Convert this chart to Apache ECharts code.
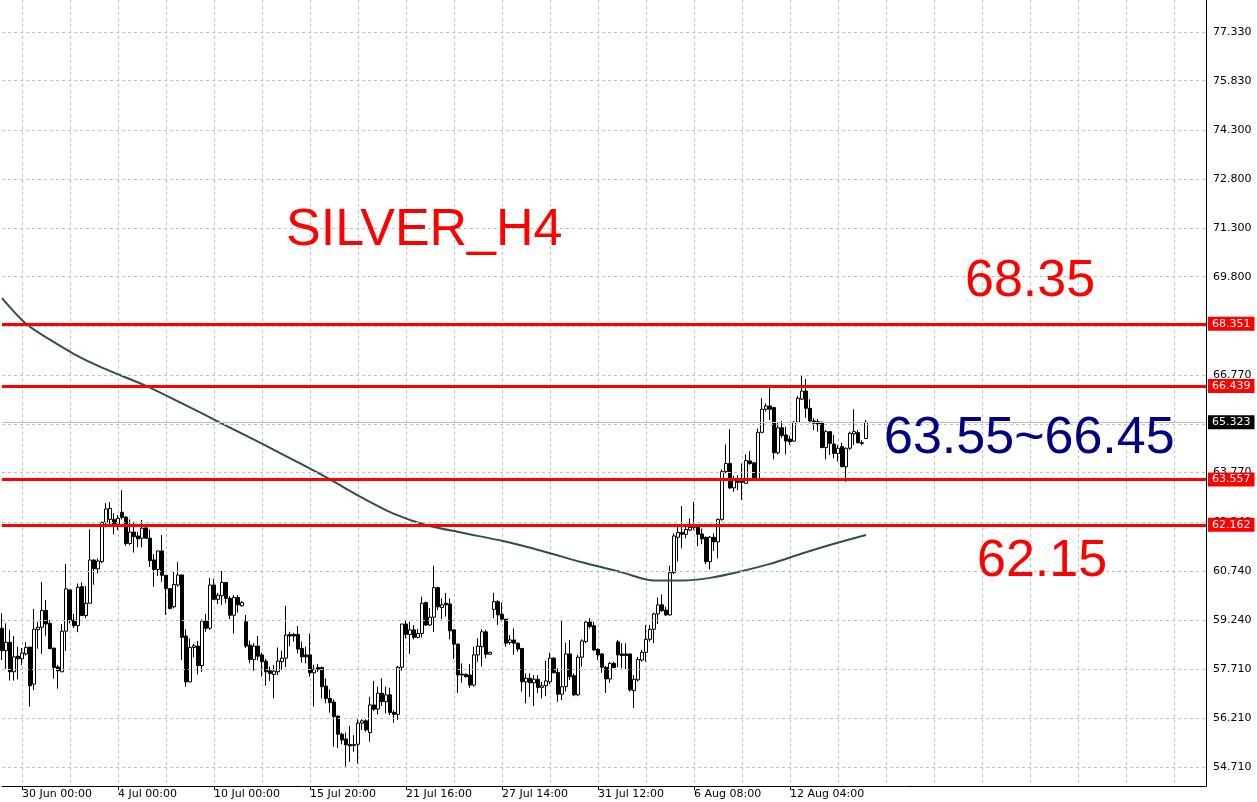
<!DOCTYPE html>
<html>
<head>
<meta charset="utf-8">
<script src="https://cdn.jsdelivr.net/npm/echarts@6/dist/echarts.min.js"></script>
<style>
  html, body { margin: 0; padding: 0; background: #ffffff; }
  #chart { width: 1257px; height: 802px; }
</style>
</head>
<body>
<div id="chart"></div>
<script>
// ---- data ----
// 4H candles: [open, close, low, high]
const candles = [
  [58.98,58.29,58.00,59.44],[58.29,58.55,57.73,59.13],[58.55,57.64,57.37,58.93],[57.64,58.10,57.37,58.74],
  [58.12,58.04,57.41,58.41],[58.04,58.22,57.85,58.37],[58.19,58.39,58.14,58.55],[58.40,57.21,56.57,58.40],
  [57.26,58.95,57.08,59.57],[58.94,59.01,58.35,59.18],[59.01,59.53,58.19,60.40],[59.53,59.11,58.75,59.85],
  [59.13,58.35,58.35,59.23],[58.37,57.77,57.43,58.37],[57.79,57.67,57.12,57.85],[57.64,58.89,57.64,59.11],
  [58.89,60.19,58.28,60.96],[60.16,59.21,59.13,60.16],[59.23,59.06,58.99,59.42],[59.06,60.24,58.86,60.36],
  [60.26,59.37,59.37,60.39],[59.37,59.75,59.29,60.28],[59.75,61.08,59.75,62.03],[61.08,60.81,60.32,61.10],
  [60.81,61.05,60.67,61.13],[61.03,62.24,60.98,62.26],[62.24,62.65,62.09,62.83],[62.33,62.67,62.16,62.86],
  [62.33,62.18,61.87,62.52],[62.18,62.36,62.00,62.46],[62.55,62.39,62.33,63.23],[62.40,61.59,61.52,62.43],
  [61.59,61.94,61.54,62.33],[61.94,61.80,61.31,62.24],[61.82,61.73,61.47,61.94],[61.75,62.06,61.47,62.31],
  [62.07,61.75,61.75,62.07],[61.75,61.06,60.87,62.02],[61.08,60.79,60.26,61.26],[60.79,61.36,60.59,61.36],
  [61.36,60.61,60.41,61.85],[60.61,60.20,59.39,60.61],[60.20,59.59,59.56,60.20],[59.64,60.33,59.59,60.71],
  [60.31,60.62,60.26,61.01],[60.62,58.70,58.00,60.62],[58.74,57.33,57.18,58.95],[57.33,58.39,57.32,58.67],
  [58.39,58.44,58.09,58.50],[58.43,57.83,57.56,58.59],[57.83,59.20,57.64,59.26],[59.20,58.98,58.87,59.42],
  [58.98,60.31,58.93,60.53],[60.31,59.87,59.85,60.50],[59.87,60.00,59.73,60.07],[59.98,60.39,59.70,60.74],
  [60.39,59.90,59.75,60.39],[59.90,59.38,59.26,59.97],[59.38,59.93,58.82,60.00],[59.93,59.70,59.46,60.00],
  [59.67,59.77,59.64,59.82],[59.18,58.43,58.37,59.39],[58.46,58.02,57.90,58.60],[58.02,58.43,57.67,58.52],
  [58.43,58.12,58.00,58.74],[58.16,57.95,57.49,58.23],[57.97,57.64,57.21,58.04],[57.67,57.59,57.36,57.80],
  [57.56,57.66,56.82,57.85],[57.64,57.97,57.54,58.39],[57.95,58.06,57.70,58.29],[58.06,58.77,57.78,59.67],
  [58.79,58.74,58.43,58.87],[58.79,58.74,58.57,58.84],[58.79,58.34,58.21,59.05],[58.36,58.10,57.92,58.57],
  [58.16,58.10,57.90,58.41],[58.16,57.61,57.49,58.82],[57.61,57.72,56.57,57.85],[57.77,57.72,57.64,57.88],
  [57.77,57.18,56.82,57.80],[57.20,56.82,56.67,57.44],[56.82,56.69,56.38,57.10],[56.71,56.26,55.33,56.79],
  [56.28,55.72,55.29,56.28],[55.72,55.54,55.41,55.77],[55.57,55.39,54.72,55.77],[55.40,55.36,54.87,55.97],
  [55.37,55.40,55.18,55.69],[55.41,56.06,54.82,56.18],[56.06,56.13,55.85,56.18],[56.13,55.85,55.80,56.18],
  [55.77,56.62,55.49,56.87],[56.62,56.49,56.44,57.36],[56.49,56.98,56.33,57.18],[56.98,56.72,56.59,57.44],
  [56.72,56.93,56.36,57.18],[56.93,56.39,56.31,57.15],[56.39,56.33,56.07,56.46],[56.33,57.78,56.16,57.82],
  [57.78,59.11,57.67,59.11],[59.11,58.79,58.67,59.23],[58.79,58.93,58.19,59.18],[58.93,58.70,58.64,59.08],
  [58.70,58.82,58.67,58.96],[58.82,59.75,58.70,59.95],[59.77,59.08,59.05,59.80],[59.08,59.32,59.05,59.60],
  [59.32,60.23,58.87,60.90],[60.23,59.64,59.54,60.26],[59.62,59.70,59.26,59.90],[59.75,59.70,59.34,60.07],
  [59.73,58.90,58.64,59.90],[58.93,58.49,58.03,58.93],[58.49,57.54,56.99,58.52],[57.57,57.54,57.30,57.90],
  [57.56,57.49,57.46,57.59],[57.54,57.23,57.15,57.88],[57.23,58.16,57.18,58.41],[58.16,58.43,57.95,58.67],
  [58.41,58.87,57.80,58.95],[58.87,58.18,58.06,58.93],[58.18,58.24,58.16,58.26],[59.56,59.80,59.29,60.07],
  [59.80,59.39,59.08,59.85],[59.41,59.26,59.18,59.77],[59.26,58.52,58.41,59.26],[58.54,58.62,58.47,58.77],
  [58.62,58.52,58.16,58.98],[58.52,58.34,58.26,58.54],[58.36,57.33,57.03,58.36],[57.33,57.44,56.67,57.59],
  [57.44,57.30,56.87,57.59],[57.30,57.41,56.59,57.54],[57.41,57.16,56.98,57.54],[57.16,57.21,56.82,57.33],
  [57.21,57.36,56.89,57.98],[57.33,58.06,57.26,58.23],[58.06,57.61,57.59,58.09],[57.62,56.95,56.72,57.75],
  [56.95,57.18,56.77,59.23],[57.18,58.19,57.03,58.54],[58.19,57.49,57.39,58.62],[57.52,56.93,56.89,57.59],
  [56.93,58.09,56.89,58.16],[58.09,58.59,57.80,58.64],[58.57,59.17,58.52,59.23],[59.17,59.03,58.98,59.29],
  [59.06,58.31,58.28,59.18],[58.33,58.16,58.00,58.36],[58.19,57.78,57.61,58.21],[57.78,57.42,56.99,57.82],
  [57.42,57.90,57.30,57.95],[57.90,57.77,57.75,57.95],[58.56,58.16,57.78,58.62],[58.19,58.14,57.75,58.52],
  [58.19,58.14,57.72,58.52],[58.19,57.08,57.03,58.19],[57.06,57.41,56.53,57.54],[57.39,58.02,57.34,58.10],
  [58.00,58.24,57.95,58.31],[58.24,58.64,57.95,59.08],[58.64,58.95,58.57,59.08],[58.95,59.42,58.52,59.46],
  [59.42,59.70,59.11,59.93],[59.70,59.52,59.49,60.02],[59.54,59.39,59.36,59.64],[59.39,60.69,59.37,60.90],
  [60.69,61.82,60.65,61.90],[61.78,61.93,61.03,62.09],[61.93,61.87,61.44,62.74],[61.87,62.02,61.75,62.16],
  [62.00,62.08,61.98,62.36],[62.08,62.11,62.00,62.87],[62.11,61.87,61.51,62.11],[61.88,61.73,61.57,62.05],
  [61.78,61.03,60.95,61.80],[61.03,61.78,60.79,61.82],[61.78,61.64,61.36,61.90],[61.64,62.33,61.13,62.36],
  [62.33,63.80,62.29,63.87],[63.80,64.05,63.75,64.64],[64.05,63.30,63.26,65.10],[63.30,63.56,63.18,63.67],
  [63.59,63.47,63.23,63.69],[63.54,63.47,62.93,64.05],[63.44,64.14,63.44,64.33],[64.13,64.05,64.01,64.43],
  [64.07,63.59,63.59,64.10],[63.59,65.01,63.59,65.13],[65.01,65.72,64.98,66.06],[65.72,65.82,65.65,65.90],
  [65.82,65.72,65.39,66.40],[65.77,64.38,64.18,65.77],[64.38,65.15,64.33,65.32],[65.15,64.91,64.84,65.36],
  [64.93,64.74,64.33,65.18],[64.80,64.72,64.62,64.91],[64.74,65.32,64.72,65.36],[65.32,66.06,65.29,66.13],
  [66.03,66.28,66.00,66.77],[66.28,65.75,65.46,66.65],[65.75,65.36,65.29,66.03],[65.36,65.29,65.08,65.44],
  [65.34,65.26,65.03,65.42],[65.32,64.54,64.52,65.34],[64.54,65.03,64.18,65.08],[65.03,64.67,64.31,65.03],
  [64.65,64.36,64.21,64.93],[64.36,64.52,64.11,64.62],[64.57,63.95,63.95,64.69],[63.95,64.52,63.49,64.54],
  [64.52,64.98,64.47,65.03],[64.96,65.03,64.62,65.72],[65.00,64.69,64.67,65.08],[64.69,64.67,64.62,64.77],
  [64.82,65.32,64.80,65.39]
];

// moving average read at sampled bars: [bar index, value]
const maPoints = [
  [0,69.14],[6,68.35],[12,67.86],[18,67.42],[25,67.00],[36,66.44],[45,65.90],[55,65.28],
  [65,64.66],[75,64.02],[82,63.56],[90,63.00],[98,62.50],[106,62.16],[115,61.92],[125,61.67],
  [135,61.36],[145,61.01],[155,60.70],[163,60.45],[170,60.45],[177,60.53],[184,60.71],[192,60.96],
  [200,61.28],[208,61.58],[216,61.85]
];

// horizontal levels (red) and current bid
const levelValues = [68.351, 66.439, 63.557, 62.162];
const bidValue = 65.323;

// price-axis tick labels
const yTicks = [54.710, 56.210, 57.710, 59.240, 60.740, 62.240, 63.770, 65.270, 66.770, 68.270,
                69.800, 71.300, 72.800, 74.300, 75.830, 77.330];

// time-axis labels (one every 24 bars, first at bar 5)
const timeLabels = ['30 Jun 00:00', '4 Jul 00:00', '10 Jul 00:00', '15 Jul 20:00', '21 Jul 16:00',
                    '27 Jul 14:00', '31 Jul 12:00', '6 Aug 08:00', '12 Aug 04:00'];

// annotation texts
const titleText = 'SILVER_H4';
const noteTexts = ['68.35', '63.55~66.45', '62.15'];

// ---- chart ----
const TOTAL_SLOTS = 302;
const categories = [];
for (let i = 0; i < TOTAL_SLOTS; i++) categories.push(String(i));

const FIRST_LABEL = 5, LABEL_STEP = 24, GRID_STEP = 12;
const isLabelIdx = (idx) => idx >= FIRST_LABEL && (idx - FIRST_LABEL) % LABEL_STEP === 0 &&
                           (idx - FIRST_LABEL) / LABEL_STEP < timeLabels.length;
const isGridIdx = (idx) => idx >= FIRST_LABEL && (idx - FIRST_LABEL) % GRID_STEP === 0;

const FONT = 'DejaVu Sans';
const BIG = '52px "Liberation Sans", Arial, sans-serif';
const GRID_COLOR = '#c0c0c0';

const markData = levelValues.map(v => ({
  yAxis: v,
  lineStyle: { color: '#ff0000', width: 3, type: 'solid' },
  label: { backgroundColor: '#ff0000' }
}));
markData.push({
  yAxis: bidValue,
  lineStyle: { color: '#c0c0c0', width: 1, type: 'solid' },
  label: { backgroundColor: '#000000' }
});

const chart = echarts.init(document.getElementById('chart'), null, { renderer: 'canvas' });
chart.setOption({
  animation: false,
  backgroundColor: '#ffffff',
  grid: { left: 2, right: 51, top: 0, bottom: 16, containLabel: false },
  xAxis: {
    type: 'category',
    data: categories,
    boundaryGap: false,
    axisLine: { show: true, lineStyle: { color: '#000000', width: 1 } },
    axisTick: { show: true, interval: (idx) => isLabelIdx(idx), length: 4, inside: false,
                lineStyle: { color: '#000000' } },
    axisLabel: {
      show: true,
      interval: (idx) => isLabelIdx(idx),
      formatter: (val, idx) => timeLabels[(idx - FIRST_LABEL) / LABEL_STEP] || '',
      align: 'left', color: '#000000', fontSize: 11, fontFamily: FONT, margin: 3
    },
    splitLine: { show: true, interval: (idx) => isGridIdx(idx),
                 lineStyle: { color: GRID_COLOR, width: 1, type: [3, 3] } }
  },
  yAxis: {
    type: 'value',
    position: 'right',
    min: 54.125,
    max: 78.315,
    scale: true,
    axisLine: { show: true, lineStyle: { color: '#000000', width: 1 } },
    axisTick: { show: false, customValues: yTicks },
    axisLabel: { customValues: yTicks, formatter: (v) => Number(v).toFixed(3),
                 color: '#000000', fontSize: 11, fontFamily: FONT, margin: 7 },
    splitLine: { show: false }
  },
  series: [
    {
      // horizontal price grid, drawn through the y scale at the tick values
      type: 'line',
      data: [],
      silent: true,
      z: 1,
      markLine: {
        silent: true,
        symbol: ['none', 'none'],
        animation: false,
        precision: 3,
        label: { show: false },
        lineStyle: { color: GRID_COLOR, width: 1, type: [3, 3] },
        data: yTicks.map(v => ({ yAxis: v }))
      }
    },
    {
      type: 'candlestick',
      data: candles,
      barWidth: 3,
      itemStyle: { color: '#ffffff', color0: '#000000', borderColor: '#000000', borderColor0: '#000000',
                   borderWidth: 1 },
      markLine: {
        silent: true,
        symbol: ['none', 'none'],
        animation: false,
        precision: 3,
        z: 10,
        lineStyle: { color: '#ff0000', width: 3, type: 'solid' },
        label: {
          show: true, position: 'end', distance: 2,
          formatter: (p) => Number(p.value).toFixed(3),
          color: '#ffffff', fontSize: 11, fontFamily: FONT, padding: [2, 4, 1, 4]
        },
        data: markData
      },
      z: 3
    },
    {
      type: 'line',
      data: maPoints.map(p => [String(p[0]), p[1]]),
      smooth: 0.3,
      showSymbol: false,
      lineStyle: { color: '#2f4f4f', width: 2 },
      z: 4
    }
  ],
  graphic: [
    { type: 'text', left: 286, top: 205, z: 100,
      style: { text: titleText, font: BIG, fill: '#ff0000' } },
    { type: 'text', left: 965, top: 256, z: 100,
      style: { text: noteTexts[0], font: BIG, fill: '#ff0000' } },
    { type: 'text', left: 884, top: 413, z: 100,
      style: { text: noteTexts[1], font: BIG, fill: '#000080' } },
    { type: 'text', left: 977, top: 536, z: 100,
      style: { text: noteTexts[2], font: BIG, fill: '#ff0000' } }
  ]
});
</script>
</body>
</html>
